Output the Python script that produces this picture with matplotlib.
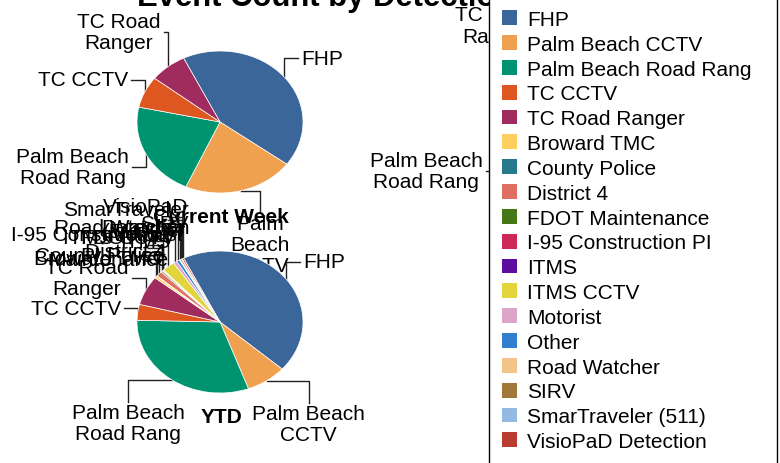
import numpy as np
import matplotlib.pyplot as plt
from matplotlib.patches import Patch
from matplotlib.lines import Line2D

plt.rcParams['font.family'] = ['Liberation Sans', 'DejaVu Sans']

W, H = 780, 464
RX, RY = 83, 71  # pie radii in pixels (the pies are squashed)

methods = ["FHP", "Palm Beach CCTV", "Palm Beach Road Rang", "TC CCTV",
           "TC Road Ranger", "Broward TMC", "County Police", "District 4",
           "FDOT Maintenance", "I-95 Construction PI", "ITMS", "ITMS CCTV",
           "Motorist", "Other", "Road Watcher", "SIRV", "SmarTraveler (511)",
           "VisioPaD Detection"]
colors = ["#3a6699", "#f0a150", "#00936f", "#df5720", "#a02c5f", "#fdcf5f",
          "#27788a", "#de6f61", "#447716", "#ce2858", "#5e0d9f", "#e2d43b",
          "#dca4c8", "#3180cf", "#f3c387", "#a07838", "#94bae3", "#b83c30"]

# wrapped label texts used next to the slices
label_text = ["FHP", "Palm Beach\nCCTV", "Palm Beach\nRoad Rang", "TC CCTV",
              "TC Road\nRanger", "Broward TMC", "County Police", "District 4",
              "FDOT\nMaintenance", "I-95 Construction\nPI", "ITMS", "ITMS CCTV",
              "Motorist", "Other", "Road Watcher", "SIRV", "SmarTraveler\n(511)",
              "VisioPaD\nDetection"]

current_week = [47, 24, 24, 8, 8, 0, 0, 0, 0, 0, 0, 0, 0, 0, 0, 0, 0, 0]
month_to_date = [80, 36, 64, 0, 20, 0, 0, 0, 0, 0, 0, 0, 0, 0, 0, 0, 0, 0]
ytd = [876, 158, 620, 72, 134, 10, 2, 24, 6, 4, 2, 50, 14, 12, 4, 6, 2, 6]

# panel title, values, pie centre (px), label text overrides, label nudges (px)
panels = [
    ("Current Week", current_week, (220, 123),
     {"Palm Beach CCTV": "Palm\nBeach\nCCTV"}, {"TC Road Ranger": (10, -13)}),
    ("Month to Date", month_to_date, (572, 123), {}, {"TC Road Ranger": (41, -25)}),
    ("YTD", ytd, (220, 323), {}, {}),
]


def fig_xy(px, py):
    return px / W, 1 - py / H


fig = plt.figure(figsize=(W / 100, H / 100), dpi=100)

for title, values, (cx, cy), overrides, nudges in panels:
    ax = fig.add_axes([(cx - RX) / W, 1 - (cy + RY) / H, 2 * RX / W, 2 * RY / H])
    idx = [i for i, v in enumerate(values) if v > 0]
    total = sum(values)
    wedges, _ = ax.pie([values[i] for i in idx], colors=[colors[i] for i in idx],
                       startangle=116, counterclock=False,
                       wedgeprops=dict(edgecolor='white', linewidth=0.5))
    for w in wedges:
        w.set_zorder(3)

    labels = []
    for w, i in zip(wedges, idx):
        name = methods[i]
        mid = np.deg2rad((w.theta1 + w.theta2) / 2)
        c, s = np.cos(mid), np.sin(mid)
        ex, ey = cx + RX * c, cy - RY * s
        small = values[i] / total < 0.03
        if s < -0.75:
            lx, ly = cx + 1.9 * RX * c, ey + 22
            kind = 'bottom'
        else:
            kind = 'right' if c >= 0 else 'left'
            lx = ex + (14 if c >= 0 else -14)
            ly = cy - 1.4 * RY * s
            dx, dy = nudges.get(name, (0, 0))
            lx, ly = lx + dx, ly + dy
        labels.append(dict(i=i, ex=ex, ey=ey, lx=lx, ly=ly, kind=kind, small=small))

    # crude overlap pass: push crowded left-hand labels upwards
    left = sorted([l for l in labels if l['kind'] == 'left'], key=lambda l: -l['ly'])
    for prev, cur in zip(left, left[1:]):
        if cur['ly'] > prev['ly'] - 3.5:
            cur['ly'] = prev['ly'] - 3.5

    for l in labels:
        txt = overrides.get(methods[l['i']], label_text[l['i']])
        ex, ey, lx, ly = l['ex'], l['ey'], l['lx'], l['ly']
        if l['kind'] == 'bottom':
            path = [(ex, ey), (lx, ey), (lx, ly)]
            tx, ty, ha, va = lx, ly + 1, 'center', 'top'
        else:
            side = 1 if l['kind'] == 'right' else -1
            path = [(ex, ey), (ex, ly), (lx, ly)]
            tx, ty = lx + side * 3, ly
            if l['small']:
                tx += 24
            ha, va = ('left' if side > 0 else 'right'), 'center'
        pts = [fig_xy(*p) for p in path]
        ax.add_line(Line2D([p[0] for p in pts], [p[1] for p in pts],
                           transform=fig.transFigure, color='#222222', lw=1.0,
                           clip_on=False, zorder=1))
        ax.text(*fig_xy(tx, ty), txt, transform=fig.transFigure, ha=ha, va=va,
                multialignment='center', fontsize=15, linespacing=1.15,
                clip_on=False, zorder=4)

    ax.text(*fig_xy(cx + 1, cy + 95), title, transform=fig.transFigure,
            ha='center', va='center', fontsize=15, fontweight='bold',
            clip_on=False, zorder=4)
    ax.set_xlim(-1, 1)
    ax.set_ylim(-1, 1)
    ax.set_aspect('auto')
    ax.axis('off')

fig.text(385 / W, 1 - 6 / H, "Event Count by Detection Method", ha='center',
         va='baseline', fontsize=22.3, fontweight='bold')

handles = [Patch(facecolor=c, edgecolor='none') for c in colors]
leg = fig.legend(handles, methods, loc='center left', mode='expand',
                 bbox_to_anchor=(489 / W, (H - 231.5 - 200) / H, 288 / W, 400 / H),
                 borderaxespad=0, fontsize=15, frameon=True, fancybox=False,
                 framealpha=1, edgecolor='black', handlelength=0.72,
                 handleheight=0.72, handletextpad=0.48, labelspacing=0.28,
                 borderpad=0.62)
leg.get_frame().set_linewidth(1.0)

fig.savefig("out.png", dpi=100)
